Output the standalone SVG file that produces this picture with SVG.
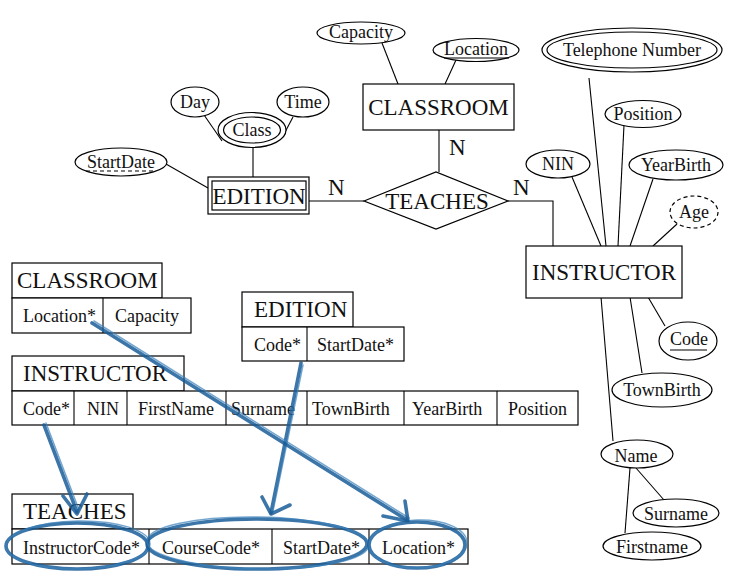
<svg xmlns="http://www.w3.org/2000/svg" width="748" height="587" viewBox="0 0 748 587">
<style>
  .bg{fill:#fff}
  .sh{fill:#fff;stroke:#000;stroke-width:1.2}
  .ln{stroke:#000;stroke-width:1.1;fill:none}
  .big{font-family:"Liberation Serif","Times New Roman",serif;font-size:23px;fill:#111}
  .att{font-family:"Liberation Serif","Times New Roman",serif;font-size:18px;fill:#111}
  .cell{font-family:"Liberation Serif","Times New Roman",serif;font-size:18px;fill:#111}
  .c{text-anchor:middle}
  .dash{stroke-dasharray:4 3}
  .blue{fill:none;stroke:#1a5d98;stroke-width:3.6;stroke-linecap:round;stroke-linejoin:round;opacity:.85}
  .blue2{fill:none;stroke:#3a80bb;stroke-width:1.5;stroke-linecap:round;opacity:.7}
</style>
<rect class="bg" x="0" y="0" width="748" height="587"/>

<g id="connectors">
  <line class="ln" x1="382" y1="43" x2="398" y2="84"/>
  <line class="ln" x1="456" y1="60" x2="445" y2="84"/>
  <line class="ln" x1="439" y1="130" x2="439" y2="172"/>
  <line class="ln" x1="364" y1="201" x2="309" y2="201"/>
  <polyline class="ln" points="508,201 553,201 553,246"/>
  <line class="ln" x1="253" y1="148" x2="253" y2="177"/>
  <line class="ln" x1="202" y1="112" x2="222" y2="141"/>
  <line class="ln" x1="293" y1="117" x2="283" y2="136"/>
  <line class="ln" x1="166" y1="164" x2="208" y2="188"/>
  <line class="ln" x1="589" y1="78" x2="606" y2="246"/>
  <line class="ln" x1="624" y1="125" x2="618" y2="246"/>
  <line class="ln" x1="572" y1="177" x2="601" y2="246"/>
  <line class="ln" x1="653" y1="179" x2="630" y2="246"/>
  <line class="ln" x1="677" y1="224" x2="653" y2="246"/>
  <line class="ln" x1="648" y1="297" x2="665" y2="326"/>
  <line class="ln" x1="630" y1="297" x2="642" y2="373"/>
  <line class="ln" x1="601" y1="297" x2="613" y2="441"/>
  <line class="ln" x1="636" y1="468" x2="664" y2="500"/>
  <line class="ln" x1="630" y1="468" x2="625" y2="533"/>
  <text class="big" x="449" y="155">N</text>
  <text class="big" x="328" y="195">N</text>
  <text class="big" x="513" y="195">N</text>
</g>

<g id="classroom">
  <rect class="sh" x="363" y="84" width="151" height="46"/>
  <text class="big c" x="438.5" y="115">CLASSROOM</text>
</g>
<g id="attr-capacity">
  <ellipse class="sh" cx="361" cy="33" rx="44" ry="11"/>
  <text class="att c" x="361" y="38">Capacity</text>
</g>
<g id="attr-location">
  <ellipse class="sh" cx="476" cy="50" rx="43" ry="11.5"/>
  <text class="att c" x="476" y="55">Location</text>
  <line class="ln" x1="444" y1="58" x2="509" y2="58"/>
</g>

<g id="teaches">
  <polygon class="sh" points="364,201 436,172 508,201 436,229"/>
  <text class="big c" x="437" y="209">TEACHES</text>
</g>

<g id="edition">
  <rect class="sh" x="208" y="177" width="101" height="37"/>
  <rect class="sh" x="212" y="181" width="94" height="29"/>
  <text class="big c" x="259" y="204">EDITION</text>
</g>
<g id="attr-class">
  <ellipse class="sh" cx="252" cy="130" rx="34" ry="17.5"/>
  <ellipse class="sh" cx="252" cy="130" rx="28.5" ry="13"/>
  <text class="att c" x="252" y="136">Class</text>
</g>
<g id="attr-day">
  <ellipse class="sh" cx="195" cy="102" rx="24" ry="15"/>
  <text class="att c" x="195" y="108">Day</text>
</g>
<g id="attr-time">
  <ellipse class="sh" cx="303" cy="102" rx="26" ry="15"/>
  <text class="att c" x="303" y="108">Time</text>
</g>
<g id="attr-startdate">
  <ellipse class="sh" cx="121" cy="162" rx="46" ry="14"/>
  <text class="att c" x="121" y="168">StartDate</text>
  <line class="ln dash" x1="86" y1="171" x2="156" y2="171"/>
</g>

<g id="instructor">
  <rect class="sh" x="526" y="246" width="156" height="52"/>
  <text class="big c" x="604" y="280">INSTRUCTOR</text>
</g>
<g id="attr-telephone">
  <ellipse class="sh" cx="632" cy="50" rx="90" ry="22"/>
  <ellipse class="sh" cx="632" cy="50" rx="85" ry="18"/>
  <text class="att c" x="632" y="56">Telephone Number</text>
</g>
<g id="attr-position">
  <ellipse class="sh" cx="643" cy="114" rx="38" ry="13.5"/>
  <text class="att c" x="643" y="120">Position</text>
</g>
<g id="attr-nin">
  <ellipse class="sh" cx="558" cy="164" rx="32" ry="14"/>
  <text class="att c" x="558" y="170">NIN</text>
</g>
<g id="attr-yearbirth">
  <ellipse class="sh" cx="676" cy="165" rx="47" ry="15"/>
  <text class="att c" x="676" y="171">YearBirth</text>
</g>
<g id="attr-age">
  <ellipse class="sh dash" cx="694" cy="212" rx="24" ry="16"/>
  <text class="att c" x="694" y="218">Age</text>
</g>
<g id="attr-code">
  <ellipse class="sh" cx="688" cy="341" rx="29" ry="19"/>
  <text class="att c" x="689" y="345">Code</text>
  <line class="ln" x1="670" y1="350" x2="707" y2="350"/>
</g>
<g id="attr-townbirth">
  <ellipse class="sh" cx="662" cy="390" rx="50" ry="17"/>
  <text class="att c" x="662" y="396">TownBirth</text>
</g>
<g id="attr-name">
  <ellipse class="sh" cx="637" cy="454" rx="36" ry="14"/>
  <text class="att c" x="636" y="462">Name</text>
</g>
<g id="attr-surname">
  <ellipse class="sh" cx="676" cy="513" rx="43" ry="14"/>
  <text class="att c" x="676" y="520">Surname</text>
</g>
<g id="attr-firstname">
  <ellipse class="sh" cx="652" cy="546" rx="49" ry="14"/>
  <text class="att c" x="652" y="553">Firstname</text>
</g>

<g id="table-classroom">
  <rect class="sh" x="12" y="263" width="150" height="35"/>
  <text class="big" x="17" y="288">CLASSROOM</text>
  <rect class="sh" x="12" y="298" width="179" height="35"/>
  <line class="ln" x1="103" y1="298" x2="103" y2="333"/>
  <text class="cell" x="23" y="322">Location*</text>
  <text class="cell" x="115" y="322">Capacity</text>
</g>
<g id="table-edition">
  <rect class="sh" x="242" y="292" width="111" height="35"/>
  <text class="big" x="254" y="317">EDITION</text>
  <rect class="sh" x="242" y="327" width="162" height="34"/>
  <line class="ln" x1="307" y1="327" x2="307" y2="361"/>
  <text class="cell" x="254" y="351">Code*</text>
  <text class="cell" x="317" y="351">StartDate*</text>
</g>
<g id="table-instructor">
  <rect class="sh" x="12" y="356" width="172" height="35"/>
  <text class="big" x="23" y="381">INSTRUCTOR</text>
  <rect class="sh" x="12" y="391" width="566" height="34"/>
  <line class="ln" x1="74" y1="391" x2="74" y2="425"/>
  <line class="ln" x1="127" y1="391" x2="127" y2="425"/>
  <line class="ln" x1="226" y1="391" x2="226" y2="425"/>
  <line class="ln" x1="307" y1="391" x2="307" y2="425"/>
  <line class="ln" x1="404" y1="391" x2="404" y2="425"/>
  <line class="ln" x1="497" y1="391" x2="497" y2="425"/>
  <text class="cell" x="23" y="415">Code*</text>
  <text class="cell" x="87" y="415">NIN</text>
  <text class="cell" x="138" y="415">FirstName</text>
  <text class="cell" x="231" y="415">Surname</text>
  <text class="cell" x="312" y="415">TownBirth</text>
  <text class="cell" x="412" y="415">YearBirth</text>
  <text class="cell" x="508" y="415">Position</text>
</g>
<g id="table-teaches">
  <rect class="sh" x="12" y="494" width="121" height="35"/>
  <text class="big" x="23" y="519">TEACHES</text>
  <rect class="sh" x="12" y="529" width="456" height="35"/>
  <line class="ln" x1="149" y1="529" x2="149" y2="564"/>
  <line class="ln" x1="272" y1="529" x2="272" y2="564"/>
  <line class="ln" x1="369" y1="529" x2="369" y2="564"/>
  <text class="cell" x="23" y="554">InstructorCode*</text>
  <text class="cell" x="162" y="554">CourseCode*</text>
  <text class="cell" x="283" y="554">StartDate*</text>
  <text class="cell" x="382" y="554">Location*</text>
</g>

<g id="annotations">
  <ellipse class="blue" cx="77" cy="546" rx="71" ry="23"/>
  <ellipse class="blue2" cx="78" cy="545" rx="72" ry="24" transform="rotate(-1 78 545)"/>
  <ellipse class="blue" cx="257" cy="544" rx="110" ry="25"/>
  <ellipse class="blue2" cx="258" cy="543" rx="111" ry="26" transform="rotate(1 258 543)"/>
  <ellipse class="blue" cx="417" cy="545" rx="48" ry="23"/>
  <ellipse class="blue2" cx="418" cy="544" rx="49" ry="24" transform="rotate(-2 418 544)"/>

  <path class="blue" d="M44,425 L77,512"/>
  <path class="blue2" d="M46,423 L79,510"/>
  <path class="blue" d="M63,496 L77,514 L87,494"/>

  <path class="blue" d="M301,363 L271,513"/>
  <path class="blue2" d="M303,365 L273,511"/>
  <path class="blue" d="M262,497 L271,514 L290,505"/>

  <path class="blue" d="M92,323 L407,520"/>
  <path class="blue2" d="M94,321 L409,518"/>
  <path class="blue" d="M405,501 L408,521 L383,516"/>
</g>
</svg>
